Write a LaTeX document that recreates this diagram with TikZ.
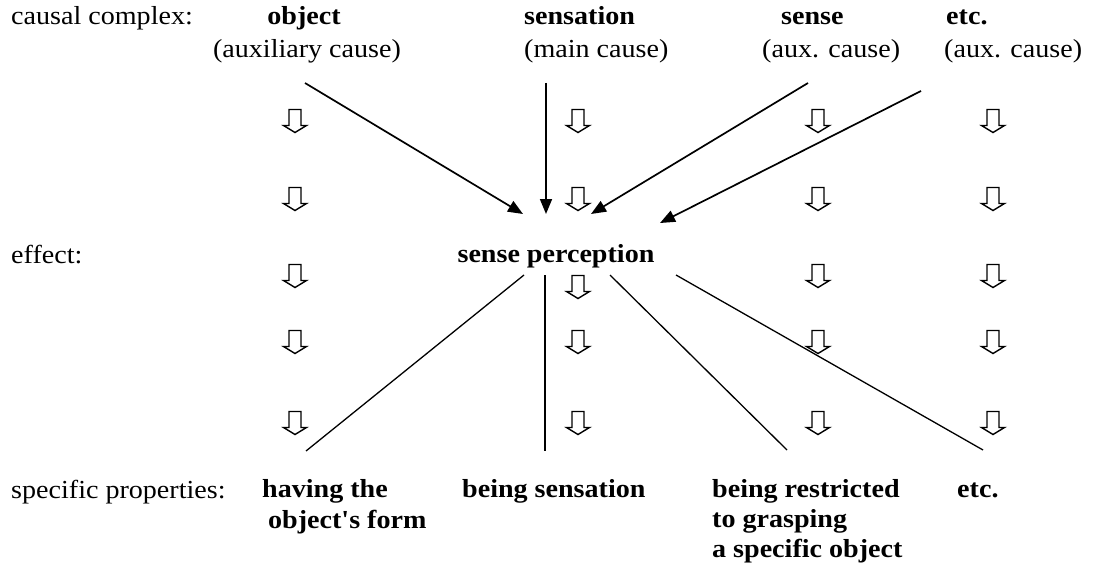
\documentclass[tikz,border=0pt]{standalone}
\usepackage{fontspec}
\setmainfont[FakeStretch=1.08]{Liberation Serif}
\newfontfamily\plainapos[FakeStretch=1.08]{Liberation Serif}
\usetikzlibrary{arrows.meta,positioning}

\begin{document}
\begin{tikzpicture}[
    x=1pt, y=-1pt,
    txt/.style={inner sep=0pt, anchor=base west, font=\fontsize{26}{31}\selectfont},
    cause/.style={txt, font=\fontsize{26}{31}\selectfont\bfseries},
    causearrow/.style={-{Triangle[length=15pt,width=12pt]}, line width=1.7pt},
    propline/.style={line width=1.3pt},
    hollowdown/.pic={\draw[line width=1.4pt] (-6,-11.5) -- (6,-11.5) -- (6,4.5) -- (11.5,4.5) -- (0,11.5) -- (-11.5,4.5) -- (-6,4.5) -- cycle;}
]
    \useasboundingbox (0,0) rectangle (1099,572);

    % Row headings
    \node[txt] (causal) at (11,25) {causal complex:};
    \node[txt] (effect) at (11,263) {effect:};
    \node[txt] (specific) at (11,498) {specific properties:};

    % Causal complex
    \node[cause, anchor=base] (object) at (304,25) {object};
    \node[txt, anchor=base] (objectaux) at (307,58) {(auxiliary cause)};
    \node[cause] (sensation) at (524,25) {sensation};
    \node[txt] (sensationmain) at (524,58) {(main cause)};
    \node[cause] (sense) at (781,25) {sense};
    \node[txt] (senseaux) at (762,58) {(aux. cause)};
    \node[cause] (etc) at (946,25) {etc.};
    \node[txt] (etcaux) at (944,58) {(aux. cause)};

    % Effect
    \node[cause, anchor=base] (percept) at (556,262) {sense perception};

    % Specific properties
    \node[cause] (form) at (262,497) {having the};
    \node[cause] (form2) at (268,528) {object{\plainapos\bfseries'}s form};
    \node[cause] (being) at (462,497) {being sensation};
    \node[cause] (restr) at (712,497) {being restricted};
    \node[cause] (restr2) at (712,527) {to grasping};
    \node[cause] (restr3) at (712,557) {a specific object};
    \node[cause] (etcprop) at (957,497) {etc.};

    % Hollow arrows
    \foreach \cx/\rows in {295/{121,199,276,342,423}, 578/{121,199,287,342,423},
                           818/{121,199,276,342,423}, 993/{121,199,276,342,423}}
        \foreach \ry in \rows
            \pic at (\cx,\ry) {hollowdown};

    % Causes -> sense perception
    \coordinate (objectA) at (305,83);
    \coordinate (objectB) at (523,214);
    \coordinate (sensationA) at (546,83);
    \coordinate (sensationB) at (546,214);
    \coordinate (senseA) at (808,83);
    \coordinate (senseB) at (591,214);
    \coordinate (etcA) at (921,91);
    \coordinate (etcB) at (660,223);
    \draw[causearrow] (objectA) -- (objectB);
    \draw[causearrow] (sensationA) -- (sensationB);
    \draw[causearrow] (senseA) -- (senseB);
    \draw[causearrow] (etcA) -- (etcB);

    % sense perception -> properties
    \coordinate (formA) at (524,275);
    \coordinate (formB) at (306,451);
    \coordinate (beingA) at (545,275);
    \coordinate (beingB) at (545,451);
    \coordinate (restrA) at (610,275);
    \coordinate (restrB) at (787,450);
    \coordinate (etcpropA) at (676,275);
    \coordinate (etcpropB) at (983,450);
    \draw[propline] (formA) -- (formB);
    \draw[propline] (beingA) -- (beingB);
    \draw[propline] (restrA) -- (restrB);
    \draw[propline] (etcpropA) -- (etcpropB);
\end{tikzpicture}
\end{document}
